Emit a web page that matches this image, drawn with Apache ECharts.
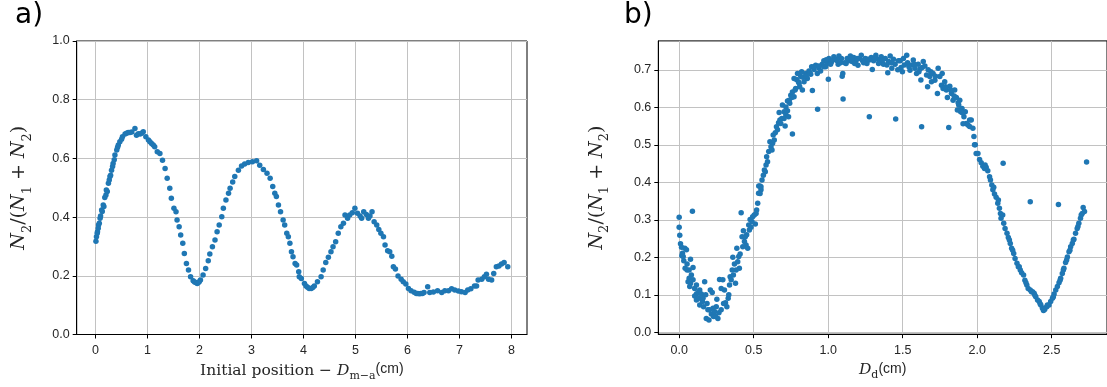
<!DOCTYPE html>
<html>
<head>
<meta charset="utf-8">
<script src="https://cdn.jsdelivr.net/npm/echarts@6/dist/echarts.min.js"></script>
<style>
  html, body { margin: 0; padding: 0; background: #fff; }
  #chart { width: 1107px; height: 387px; }
</style>
</head>
<body>
<div id="chart"></div>
<script>
// panel a: initial position (cm) vs N2/(N1+N2)
const posA = [0.01, 0.02, 0.04, 0.06, 0.09, 0.12, 0.15, 0.18, 0.21, 0.25, 0.28, 0.31, 0.34, 0.375, 0.41, 0.44, 0.47, 0.52, 0.57, 0.63, 0.70, 0.76, 0.79, 0.86, 0.92, 0.97,
  1.02, 1.08, 1.14, 1.19, 1.24, 1.29, 1.34, 1.38, 1.43, 1.46, 1.51, 1.55, 1.57, 1.61, 1.64, 1.68, 1.71, 1.75, 1.79, 1.83, 1.88, 1.93, 1.98,
  2.02, 2.07, 2.12, 2.17, 2.20, 2.25, 2.30, 2.34, 2.38, 2.43, 2.46, 2.51, 2.56, 2.59, 2.64, 2.68, 2.75, 2.81, 2.87, 2.94, 3.02, 3.10, 3.16, 3.23, 3.30, 3.36, 3.41, 3.45, 3.48, 3.52, 3.56, 3.61, 3.64, 3.68, 3.71, 3.74, 3.77, 3.80, 3.84, 3.87, 3.91, 3.92, 3.96,
  4.02, 4.08, 4.15, 4.21, 4.27, 4.34, 4.38, 4.43, 4.48, 4.53, 4.57, 4.62, 4.67, 4.72, 4.77, 4.80, 4.85, 4.89, 4.94, 4.99,
  5.04, 5.09, 5.12, 5.16, 5.21, 5.25, 5.28, 5.32, 5.36, 5.41, 5.45, 5.49, 5.54, 5.57, 5.62, 5.66, 5.70, 5.73, 5.77, 5.82, 5.88, 5.92, 5.97,
  6.02, 6.07, 6.13, 6.20, 6.26, 6.32, 6.39, 6.43, 6.50, 6.58, 6.66, 6.72, 6.79, 6.85, 6.91, 6.98,
  7.04, 7.11, 7.16, 7.22, 7.29, 7.33, 7.36, 7.43, 7.48, 7.52, 7.56, 7.62, 7.66, 7.71, 7.76, 7.81, 7.86, 7.93,
  0.035, 0.054, 0.074, 0.099, 0.131, 0.163, 0.202, 0.228, 0.266, 0.292, 0.330, 0.362, 0.426, 0.503, 0.599, 0.663, 0.824, 0.888, 1.048, 1.112,
  1.907, 1.958, 1.997, 4.05, 4.11, 4.18, 6.17, 6.23, 6.29];
const ratioA = [0.318, 0.333, 0.350, 0.373, 0.396, 0.424, 0.441, 0.467, 0.492, 0.515, 0.538, 0.560, 0.583, 0.612, 0.629, 0.646, 0.657, 0.674, 0.683, 0.688, 0.690, 0.702, 0.679, 0.683, 0.691, 0.674,
  0.663, 0.651, 0.640, 0.623, 0.617, 0.594, 0.566, 0.532, 0.498, 0.464, 0.430, 0.418, 0.390, 0.367, 0.339, 0.311, 0.276, 0.242, 0.220, 0.197, 0.183, 0.177, 0.177,
  0.186, 0.203, 0.225, 0.251, 0.274, 0.299, 0.322, 0.350, 0.373, 0.401, 0.430, 0.458, 0.481, 0.498, 0.520, 0.538, 0.560, 0.574, 0.581, 0.586, 0.589, 0.592, 0.577, 0.562, 0.549, 0.532, 0.504, 0.481, 0.470, 0.441, 0.418, 0.390, 0.373, 0.345, 0.333, 0.311, 0.282, 0.265, 0.242, 0.237, 0.214, 0.197, 0.191,
  0.174, 0.161, 0.157, 0.165, 0.180, 0.197, 0.220, 0.245, 0.263, 0.282, 0.299, 0.316, 0.345, 0.367, 0.379, 0.407, 0.396, 0.407, 0.415, 0.430,
  0.413, 0.404, 0.396, 0.418, 0.409, 0.396, 0.404, 0.418, 0.384, 0.373, 0.358, 0.345, 0.333, 0.305, 0.285, 0.282, 0.267, 0.231, 0.223, 0.199, 0.188, 0.180, 0.172,
  0.157, 0.149, 0.144, 0.140, 0.140, 0.143, 0.163, 0.143, 0.145, 0.149, 0.143, 0.149, 0.149, 0.156, 0.152, 0.148,
  0.146, 0.143, 0.152, 0.156, 0.165, 0.165, 0.186, 0.188, 0.197, 0.205, 0.188, 0.186, 0.208, 0.231, 0.233, 0.240, 0.245, 0.231,
  0.345, 0.362, 0.379, 0.404, 0.419, 0.436, 0.475, 0.487, 0.526, 0.543, 0.572, 0.595, 0.638, 0.665, 0.686, 0.688, 0.684, 0.686, 0.657, 0.646,
  0.179, 0.174, 0.180, 0.165, 0.157, 0.160, 0.140, 0.139, 0.140];

// panel b: D_d (cm) vs N2/(N1+N2)
const dB = [0.000, 0.000, 0.004, 0.009, 0.016, 0.022, 0.018, 0.038, 0.049, 0.031, 0.040, 0.053, 0.076, 0.089, 0.093, 0.082, 0.067, 0.060, 0.076, 0.071,
  0.104, 0.116, 0.127, 0.104, 0.116, 0.133, 0.149, 0.138, 0.156, 0.171, 0.164, 0.178, 0.193, 0.182, 0.200, 0.216, 0.209, 0.222, 0.231, 0.238,
  0.249, 0.260, 0.267, 0.253, 0.271, 0.282, 0.293, 0.304, 0.311, 0.320, 0.329, 0.333, 0.342, 0.356, 0.364, 0.360, 0.371, 0.378, 0.387, 0.393,
  0.404, 0.409, 0.416, 0.422, 0.431, 0.438, 0.449, 0.460, 0.453, 0.467, 0.476, 0.482, 0.493, 0.504, 0.511, 0.516, 0.527, 0.533, 0.542, 0.549,
  0.534, 0.543, 0.556, 0.565, 0.572, 0.583, 0.587, 0.601, 0.616, 0.609, 0.627, 0.631, 0.645, 0.653, 0.667, 0.676, 0.689, 0.671, 0.693, 0.704,
  0.716, 0.727, 0.734, 0.711, 0.760, 0.727, 0.738, 0.749, 0.760, 0.771, 0.782, 0.787, 0.800, 0.809, 0.816, 0.827, 0.838, 0.849, 0.860, 0.871,
  0.883, 0.894, 0.889, 0.905, 0.916, 0.927, 0.929, 0.938, 0.949, 0.960, 0.971, 0.983, 0.994, 1.001, 1.005, 1.022, 1.038, 1.054, 1.067, 1.072,
  1.089, 1.094, 1.098, 1.100, 1.111, 1.127, 1.138, 1.149, 1.160, 1.171, 1.187, 1.200, 1.209, 1.222, 1.231, 1.249, 1.260, 1.276, 1.276, 1.289,
  1.296, 1.305, 1.320, 1.334, 1.349, 1.356, 1.371, 1.383, 1.400, 1.405, 1.416, 1.427, 1.438, 1.453, 1.449, 1.467, 1.471, 1.489, 1.498, 1.511,
  1.527, 1.533, 1.549, 1.560, 1.571, 1.582, 1.593, 1.604, 1.616, 1.622, 1.627, 1.638, 1.649, 1.660, 1.667, 1.671, 1.682, 1.693, 1.704, 1.716,
  1.733, 1.738, 1.749, 1.760, 1.771, 1.765, 1.782, 1.793, 1.800, 1.809, 1.816, 1.827, 1.838, 1.849, 1.860, 1.867, 1.876, 1.889, 1.898, 1.911,
  1.920, 1.927, 1.938, 1.949, 1.960, 1.971, 1.978, 1.987, 1.993, 1.872, 1.883, 1.899, 1.905, 1.982, 2.005, 2.016, 2.027, 2.038, 2.049, 2.060,
  2.071, 2.083, 2.089, 2.098, 2.105, 2.116, 2.127, 2.138, 2.149, 2.156, 2.160, 2.174, 2.178, 2.187, 2.200, 2.209, 2.222, 2.231, 2.245, 2.254,
  2.267, 2.276, 2.289, 2.298, 2.311, 2.320, 2.333, 2.342, 2.356, 2.356, 2.371, 2.382, 2.393, 2.405, 2.416, 2.427, 2.438, 2.445, 2.453, 2.467,
  2.482, 2.493, 2.505, 2.516, 2.527, 2.538, 2.545, 2.549, 2.560, 2.571, 2.582, 2.593, 2.605, 2.616, 2.627, 2.638, 2.649, 2.660, 2.671, 2.682,
  2.693, 2.705, 2.711, 2.720, 2.734,
  0.771, 0.794, 0.822, 0.971, 0.987, 1.016, 1.031, 1.060, 1.083, 1.120, 1.156, 1.178, 1.194, 1.238, 1.267, 1.312, 1.338, 1.365, 1.394, 1.423,
  1.483, 1.505, 1.542, 1.578, 1.609, 1.631, 1.689, 1.720, 1.787, 1.822, 1.845, 1.883, 1.905, 1.949,
  0.549, 0.578, 0.593, 0.623, 0.638, 0.660, 0.682, 0.704, 0.716, 0.742, 0.756, 0.778, 0.805, 0.831, 0.853, 0.876, 0.905, 0.938,
  0.027, 0.053, 0.067, 0.093, 0.116, 0.138, 0.160, 0.187, 0.204, 0.227, 0.244, 0.282, 0.298, 0.338, 0.349, 0.382, 0.400, 0.427, 0.444, 0.471, 0.489, 0.520,
  2.053, 2.111, 2.142, 2.171, 2.216, 2.238, 2.282, 2.327, 2.364, 2.387, 2.422, 2.449, 2.471, 2.511, 2.556, 2.578, 2.600, 2.622, 2.645, 2.676, 2.698];
const ratioB = [0.307, 0.280, 0.259, 0.236, 0.227, 0.211, 0.204, 0.224, 0.220, 0.191, 0.171, 0.166, 0.195, 0.323, 0.173, 0.153, 0.144, 0.135, 0.131, 0.122,
  0.117, 0.102, 0.106, 0.097, 0.086, 0.091, 0.102, 0.073, 0.082, 0.135, 0.068, 0.100, 0.060, 0.037, 0.033, 0.049, 0.113, 0.106, 0.042, 0.055,
  0.068, 0.037, 0.052, 0.088, 0.141, 0.117, 0.140, 0.113, 0.079, 0.068, 0.091, 0.100, 0.148, 0.166, 0.153, 0.200, 0.182, 0.131, 0.224, 0.188,
  0.171, 0.209, 0.319, 0.255, 0.271, 0.242, 0.233, 0.224, 0.260, 0.286, 0.301, 0.280, 0.308, 0.313, 0.289, 0.317, 0.344, 0.371, 0.390, 0.380,
  0.390, 0.370, 0.406, 0.419, 0.433, 0.446, 0.468, 0.482, 0.495, 0.508, 0.504, 0.526, 0.532, 0.548, 0.559, 0.566, 0.570, 0.586, 0.606, 0.588,
  0.580, 0.591, 0.575, 0.550, 0.529, 0.617, 0.619, 0.632, 0.641, 0.628, 0.650, 0.674, 0.668, 0.655, 0.682, 0.646, 0.668, 0.690, 0.677, 0.697,
  0.688, 0.645, 0.708, 0.701, 0.712, 0.690, 0.595, 0.705, 0.697, 0.715, 0.724, 0.708, 0.719, 0.675, 0.730, 0.721, 0.735, 0.728, 0.715, 0.737,
  0.730, 0.683, 0.690, 0.622, 0.719, 0.730, 0.724, 0.737, 0.722, 0.733, 0.724, 0.712, 0.730, 0.739, 0.724, 0.730, 0.717, 0.575, 0.726, 0.733,
  0.701, 0.724, 0.739, 0.728, 0.722, 0.735, 0.715, 0.730, 0.692, 0.722, 0.737, 0.704, 0.728, 0.569, 0.715, 0.700, 0.724, 0.706, 0.695, 0.713,
  0.739, 0.719, 0.699, 0.713, 0.726, 0.704, 0.690, 0.715, 0.702, 0.673, 0.548, 0.722, 0.710, 0.686, 0.655, 0.700, 0.682, 0.668, 0.690, 0.672,
  0.637, 0.704, 0.682, 0.659, 0.650, 0.690, 0.668, 0.646, 0.626, 0.546, 0.656, 0.637, 0.619, 0.646, 0.626, 0.593, 0.606, 0.588, 0.597, 0.575,
  0.588, 0.557, 0.553, 0.549, 0.566, 0.544, 0.522, 0.500, 0.477, 0.612, 0.593, 0.586, 0.556, 0.500, 0.477, 0.461, 0.452, 0.443, 0.437, 0.440,
  0.431, 0.415, 0.406, 0.393, 0.380, 0.369, 0.360, 0.344, 0.331, 0.317, 0.304, 0.451, 0.291, 0.277, 0.264, 0.253, 0.237, 0.224, 0.210, 0.197,
  0.184, 0.175, 0.166, 0.159, 0.153, 0.139, 0.126, 0.117, 0.348, 0.113, 0.108, 0.104, 0.095, 0.086, 0.082, 0.073, 0.064, 0.058, 0.061, 0.068,
  0.073, 0.082, 0.091, 0.102, 0.113, 0.122, 0.341, 0.132, 0.144, 0.157, 0.171, 0.186, 0.201, 0.215, 0.228, 0.237, 0.248, 0.264, 0.277, 0.291,
  0.304, 0.317, 0.333, 0.322, 0.454,
  0.677, 0.690, 0.695, 0.708, 0.727, 0.715, 0.726, 0.724, 0.719, 0.717, 0.728, 0.717, 0.730, 0.719, 0.728, 0.730, 0.717, 0.726, 0.713, 0.719,
  0.724, 0.730, 0.708, 0.715, 0.695, 0.706, 0.695, 0.683, 0.655, 0.646, 0.630, 0.619, 0.585, 0.566,
  0.388, 0.428, 0.455, 0.486, 0.513, 0.540, 0.557, 0.570, 0.601, 0.611, 0.626, 0.646, 0.664, 0.680, 0.683, 0.692, 0.708, 0.710,
  0.202, 0.182, 0.166, 0.140, 0.126, 0.113, 0.091, 0.077, 0.060, 0.064, 0.042, 0.060, 0.077, 0.126, 0.140, 0.166, 0.202, 0.228, 0.255, 0.273, 0.295, 0.326,
  0.446, 0.387, 0.353, 0.313, 0.246, 0.219, 0.175, 0.132, 0.108, 0.099, 0.076, 0.064, 0.073, 0.095, 0.139, 0.166, 0.193, 0.219, 0.246, 0.282, 0.313];

// tick values
const xTicksA = [0, 1, 2, 3, 4, 5, 6, 7, 8];
const yTicksA = [0, 0.2, 0.4, 0.6, 0.8, 1.0];
const xTicksB = [0, 0.5, 1.0, 1.5, 2.0, 2.5];
const yTicksB = [0, 0.1, 0.2, 0.3, 0.4, 0.5, 0.6, 0.7];

const zip = (xs, ys) => xs.map((x, i) => [x, ys[i]]);

const blue = '#1f77b4';
const tickFont = { fontFamily: 'Liberation Sans', fontSize: 12.5, color: '#262626' };
const serif = 'DejaVu Serif';
const ink = '#262626';
const richY = {
  i: { fontFamily: serif, fontStyle: 'italic', fontSize: 19, lineHeight: 24, verticalAlign: 'top', color: ink },
  r: { fontFamily: serif, fontSize: 19, lineHeight: 24, verticalAlign: 'top', color: ink },
  s: { fontFamily: serif, fontSize: 13, lineHeight: 14, verticalAlign: 'bottom', color: ink }
};
const richX = {
  i: { fontFamily: serif, fontStyle: 'italic', fontSize: 15.5, lineHeight: 19, verticalAlign: 'top', color: ink },
  r: { fontFamily: serif, fontSize: 15.5, lineHeight: 19, verticalAlign: 'top', color: ink },
  s: { fontFamily: serif, fontSize: 11, lineHeight: 11, verticalAlign: 'bottom', color: ink },
  c: { fontFamily: 'Liberation Sans', fontSize: 14, lineHeight: 19, verticalAlign: 'top', color: ink }
};

function valueAxis(opt) {
  return Object.assign({
    type: 'value',
    axisLine: { show: true, onZero: false, lineStyle: { color: '#000', width: 1 } },
    splitLine: { show: true, lineStyle: { color: '#c2c2c2', width: 1 } },
    nameLocation: 'middle'
  }, opt);
}

function ticks(values) {
  return { show: true, length: 4, customValues: values, lineStyle: { color: '#000', width: 1 } };
}

const yName = '{i|N}{s|2}{r|/(}{i|N}{s|1}{r| + }{i|N}{s|2}{r|)}';

const option = {
  animation: false,
  backgroundColor: '#fff',
  graphic: [
    { type: 'text', left: 15, top: 2, style: { text: 'a)', font: '28px "DejaVu Sans"', fill: '#000' } },
    { type: 'text', left: 624, top: 2, style: { text: 'b)', font: '28px "DejaVu Sans"', fill: '#000' } }
  ],
  grid: [
    { left: 76.7, right: 580, top: 41, bottom: 52.5, show: true, borderColor: '#000', borderWidth: 1 },
    { left: 658.3, right: -3, top: 40.9, bottom: 52.8, show: true, borderColor: '#000', borderWidth: 1 }
  ],
  xAxis: [
    valueAxis({
      gridIndex: 0, min: -0.36, max: 8.3,
      axisTick: ticks(xTicksA),
      axisLabel: Object.assign({ customValues: xTicksA, margin: 10, formatter: v => String(v) }, tickFont),
      name: '{r|Initial position − }{i|D}{s|m−a}{c|(cm)}', nameGap: 28,
      nameTextStyle: { rich: richX }
    }),
    valueAxis({
      gridIndex: 1, min: -0.14, max: 2.871,
      axisTick: ticks(xTicksB),
      axisLabel: Object.assign({ customValues: xTicksB, margin: 10, formatter: v => v.toFixed(1) }, tickFont),
      name: '{i|D}{s|d}{c|(cm)}', nameGap: 26,
      nameTextStyle: { rich: richX }
    })
  ],
  yAxis: [
    valueAxis({
      gridIndex: 0, min: 0, max: 1,
      axisTick: ticks(yTicksA),
      axisLabel: Object.assign({ customValues: yTicksA, margin: 7, formatter: v => v.toFixed(1) }, tickFont),
      name: yName, nameGap: 43,
      nameTextStyle: { rich: richY }
    }),
    valueAxis({
      gridIndex: 1, min: -0.005, max: 0.777,
      axisTick: ticks(yTicksB),
      axisLabel: Object.assign({ customValues: yTicksB, margin: 7, formatter: v => v.toFixed(1) }, tickFont),
      name: yName, nameGap: 47,
      nameTextStyle: { rich: richY }
    })
  ],
  series: [
    { type: 'scatter', xAxisIndex: 0, yAxisIndex: 0, data: zip(posA, ratioA), symbolSize: 5.5, itemStyle: { color: blue, opacity: 1 } },
    { type: 'scatter', xAxisIndex: 1, yAxisIndex: 1, data: zip(dB, ratioB), symbolSize: 5.5, itemStyle: { color: blue, opacity: 1 } }
  ]
};

const chart = echarts.init(document.getElementById('chart'), null, { renderer: 'canvas' });
chart.setOption(option);
</script>
</body>
</html>
